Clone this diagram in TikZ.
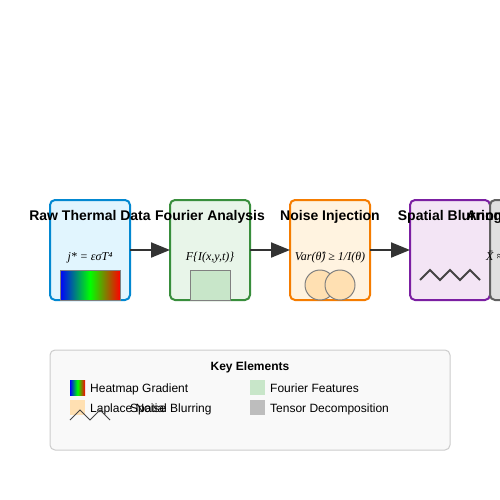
\documentclass[tikz,border=0pt]{standalone}
\usepackage{fontspec}
\setmainfont{Liberation Sans}
\newfontfamily\mathserif{Liberation Serif}
\usetikzlibrary{arrows.meta}
\definecolor{c1f}{HTML}{E1F5FE}\definecolor{c1d}{HTML}{0288D1}
\definecolor{c2f}{HTML}{E8F5E9}\definecolor{c2d}{HTML}{388E3C}
\definecolor{c3f}{HTML}{FFF3E0}\definecolor{c3d}{HTML}{F57C00}
\definecolor{c4f}{HTML}{F3E5F5}\definecolor{c4d}{HTML}{7B1FA2}
\definecolor{c5f}{HTML}{E0E0E0}\definecolor{c5d}{HTML}{616161}
\definecolor{four}{HTML}{C8E6C9}
\definecolor{lap}{HTML}{FFE0B2}
\definecolor{tens}{HTML}{BDBDBD}
\definecolor{dk}{HTML}{333333}
\definecolor{zz}{HTML}{444444}
\begin{document}
\begin{tikzpicture}[x=1pt,y=-1pt,
  stagebox/.style={draw, line width=2pt, rounded corners=5pt, minimum width=80pt, minimum height=100pt, inner sep=0pt, outer sep=0pt},
  title/.style={font=\fontsize{14}{16}\selectfont\bfseries, anchor=base, inner sep=0pt},
  formula/.style={font=\fontsize{12}{14}\mathserif\itshape, anchor=base, inner sep=0pt},
  flow/.style={draw=dk, line width=2pt, -{Triangle[length=19pt 0,width=15pt 0]}},
  swatchbox/.style={draw=gray, line width=1pt},
  legtext/.style={font=\fontsize{12}{14}\selectfont, anchor=base west, inner sep=0pt},
  zig/.style={draw=zz, line width=2pt},
]
\clip (0,0) rectangle (500,500);
\fill[white] (0,0) rectangle (500,500);
% stage boxes
\node[stagebox, fill=c1f, draw=c1d] (b1) at (90,250) {};
\node[stagebox, fill=c2f, draw=c2d] (b2) at (210,250) {};
\node[stagebox, fill=c3f, draw=c3d] (b3) at (330,250) {};
\node[stagebox, fill=c4f, draw=c4d] (b4) at (450,250) {};
\node[stagebox, fill=c5f, draw=c5d] (b5) at (530,250) {};
% arrows
\draw[flow] (b1.east) -- (b2.west);
\draw[flow] (b2.east) -- (b3.west);
\draw[flow] (b3.east) -- (b4.west);
% inner elements
\shade[left color=blue, right color=red, middle color=green] (60,270) rectangle (120,300);
\draw[gray, line width=1pt] (60,270) rectangle (120,300);
\draw[swatchbox, fill=four] (190,270) rectangle (230,300);
\draw[swatchbox, fill=lap] (320,285) circle (15);
\draw[swatchbox, fill=lap] (340,285) circle (15);
\draw[zig] (420,280) -- (430,270) -- (440,280) -- (450,270) -- (460,280) -- (470,270) -- (480,280);
\draw[swatchbox, fill=tens] (500,270) rectangle (560,300);
% titles
\node[title] (t1) at (90,220) {Raw Thermal Data};
\node[title] (t2) at (210,220) {Fourier Analysis};
\node[title] (t3) at (330,220) {Noise Injection};
\node[title] (t4) at (450,220) {Spatial Blurring};
\node[title] (t5) at (530,220) {Anomaly Detection};
% formulas
\node[formula] (f1) at (90,260) {j* = εσT⁴};
\node[formula] (f2) at (210,260) {F\{I(x,y,t)\}};
\node[formula] (f3) at (330,260) {Var(θ̂) ≥ 1/I(θ)};
\node[formula, anchor=base west] (f5) at (486,260) {X̄ ≈ Σ λ a·b·c};
% legend
\node[draw={rgb,255:red,204;green,204;blue,204}, fill={rgb,255:red,249;green,249;blue,249}, line width=1pt, rounded corners=5pt, minimum width=400pt, minimum height=100pt, inner sep=0pt] (leg) at (250,400) {};
\node[font=\fontsize{12}{14}\selectfont\bfseries, anchor=base, inner sep=0pt] (legt) at (250,370) {Key Elements};
\shade[left color=blue, right color=red, middle color=green] (70,380) rectangle (85,395);
\fill[four] (250,380) rectangle (265,395);
\fill[lap] (70,400) rectangle (85,415);
\fill[tens] (250,400) rectangle (265,415);
\node[legtext] (l1) at (90,392) {Heatmap Gradient};
\node[legtext] (l2) at (270,392) {Fourier Features};
\node[legtext] (l3) at (90,412) {Laplace Noise};
\node[legtext] (l4) at (130,412) {Spatial Blurring};
\node[legtext] (l5) at (270,412) {Tensor Decomposition};
\draw[draw=zz, line width=1pt] (70,420) -- (80,410) -- (90,420) -- (100,410) -- (110,420);
\end{tikzpicture}
\end{document}
